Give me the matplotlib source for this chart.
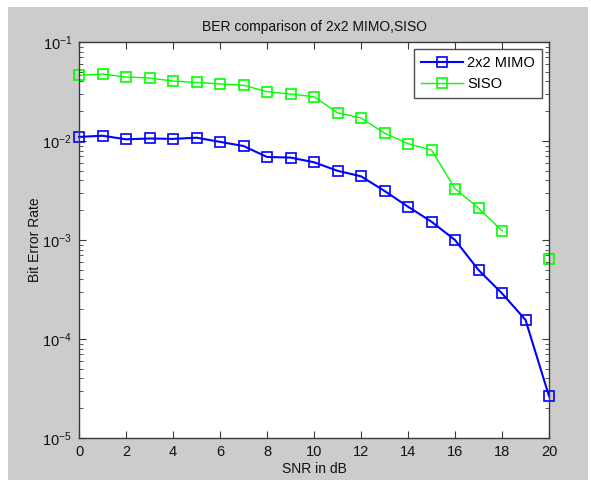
import numpy as np
import matplotlib
matplotlib.use("Agg")
import matplotlib.pyplot as plt
from matplotlib.patches import Rectangle
from matplotlib.ticker import LogLocator, FixedLocator, NullFormatter

plt.rcParams['font.family'] = ['Liberation Sans', 'DejaVu Sans']
plt.rcParams['mathtext.fontset'] = 'custom'
plt.rcParams['mathtext.rm'] = 'Liberation Sans'
plt.rcParams['mathtext.it'] = 'Liberation Sans'

snr = np.arange(0, 21)
ber_mimo = [0.0110, 0.0113, 0.0104, 0.0106, 0.0105, 0.0108, 0.0098, 0.0089,
            0.0069, 0.0068, 0.0061, 0.0050, 0.0044, 0.00313, 0.00217, 0.00153,
            0.00100, 0.000498, 0.000289, 0.000156, 0.0000265]
ber_siso = [0.0460, 0.0475, 0.0443, 0.0433, 0.0403, 0.0390, 0.0377, 0.0366,
            0.0315, 0.0298, 0.0280, 0.0193, 0.0171, 0.0120, 0.0094, 0.0081,
            0.0033, 0.0021, 0.00124, np.nan, 0.00064]
x_ticks = list(range(0, 21, 2))

W, H = 591, 480
fig = plt.figure(figsize=(W / 100, H / 100), dpi=100, facecolor='white')
fig.patches.append(Rectangle((8 / W, 0), (588 - 8) / W, (H - 7) / H,
                             transform=fig.transFigure, facecolor='#cccccc',
                             edgecolor='none', zorder=-10))

ax = fig.add_axes([79 / W, 42 / H, 470 / W, 396 / H])
ax.set_facecolor('white')

ax.plot(snr, ber_mimo, '-s', color='#0000ff', lw=1.5, ms=6.5, mew=1.2,
        mfc='none', label='2x2 MIMO', clip_on=False)
ax.plot(snr, ber_siso, '-s', color='#00ff00', lw=1.0, ms=6.5, mew=1.2,
        mfc='none', label='SISO', clip_on=False)

ax.set_yscale('log')
ax.set_xlim(0, 20)
ax.set_ylim(1e-5, 1e-1)
ax.xaxis.set_major_locator(FixedLocator(x_ticks))
ax.set_xticklabels([str(t) for t in x_ticks])
ax.yaxis.set_minor_locator(LogLocator(base=10, subs=np.arange(2, 10), numticks=10))
ax.yaxis.set_minor_formatter(NullFormatter())
ax.set_yticks([1e-5, 1e-4, 1e-3, 1e-2, 1e-1])
ax.set_yticklabels([r'$10^{-5}$', r'$10^{-4}$', r'$10^{-3}$', r'$10^{-2}$', r'$10^{-1}$'])

spine_c = '#3a3a3a'
for s in ax.spines.values():
    s.set_color(spine_c)
    s.set_linewidth(1.0)
ax.tick_params(which='both', direction='in', top=True, right=True,
               color=spine_c, labelsize=10.5, labelcolor='#111111')
ax.tick_params(which='major', length=5, pad=5)
ax.tick_params(which='minor', length=3)

ax.set_title('BER comparison of 2x2 MIMO,SISO', fontsize=10, pad=8, color='#111111')
ax.set_xlabel('SNR in dB', fontsize=10, labelpad=2, color='#111111')
ax.set_ylabel('Bit Error Rate', fontsize=10, labelpad=0, color='#111111')

leg = ax.legend(loc='upper right', fontsize=10.5, frameon=True, fancybox=False,
                edgecolor='#222222', borderaxespad=0.5, handlelength=2.9,
                handletextpad=0.3, borderpad=0.45, labelspacing=0.5)
leg.get_frame().set_linewidth(1.0)

fig.savefig('out.png', dpi=100, facecolor=fig.get_facecolor())
